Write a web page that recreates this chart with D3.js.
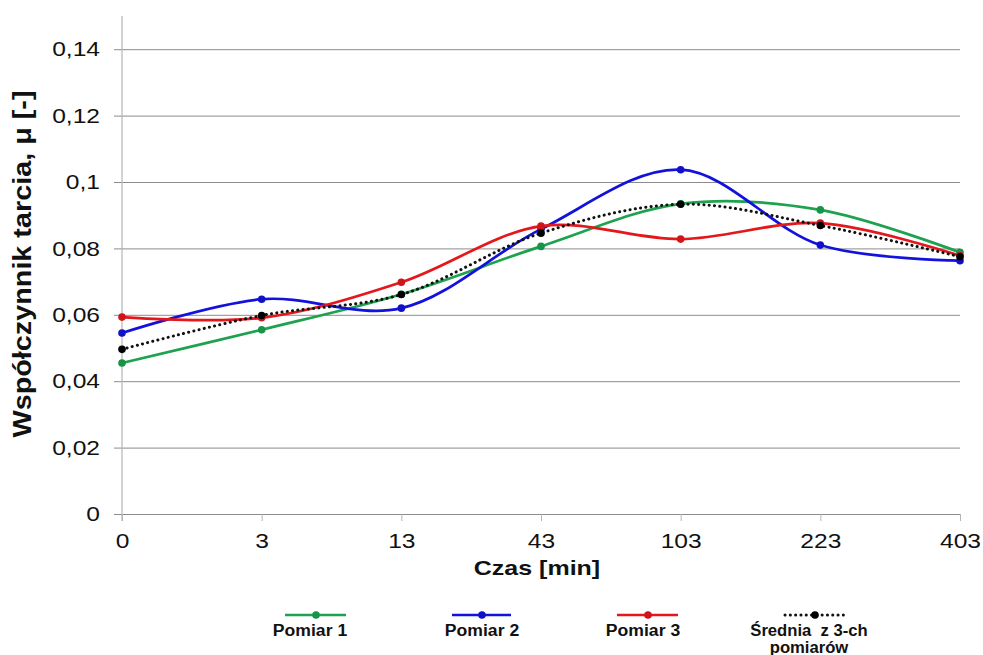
<!DOCTYPE html>
<html>
<head>
<meta charset="utf-8">
<script src="https://cdn.jsdelivr.net/npm/d3@7"></script>
<style>
  body { margin: 0; background: #fff; }
  svg { font-family: "Liberation Sans", Arial, sans-serif; }
</style>
</head>
<body>
<svg id="chart" width="983" height="655"></svg>
<script>
// data
const czas = ["0", "3", "13", "43", "103", "223", "403"];
const pomiar1 = [0.0455, 0.0555, 0.0662, 0.0806, 0.0934, 0.0916, 0.0788];
const pomiar2 = [0.0545, 0.0647, 0.0620, 0.0858, 0.1037, 0.0810, 0.0763];
const pomiar3 = [0.0593, 0.0591, 0.0698, 0.0867, 0.0828, 0.0876, 0.0778];
const srednia = [0.0496, 0.0598, 0.0661, 0.0846, 0.0933, 0.0869, 0.0775];
const yTicks = [0, 0.02, 0.04, 0.06, 0.08, 0.1, 0.12, 0.14];

const series = [
  { name: "Pomiar 1", values: pomiar1, color: "#1fa24f", dot: "#17934a" },
  { name: "Pomiar 2", values: pomiar2, color: "#1212dc", dot: "#1010c8" },
  { name: "Pomiar 3", values: pomiar3, color: "#e3171c", dot: "#d0151a" },
  { name: "Średnia", values: srednia, color: "#111", dot: "#000", dotted: true }
];

const svg = d3.select("#chart"),
    margin = { top: 16, right: 23, bottom: 141, left: 122 },
    width = +svg.attr("width") - margin.left - margin.right,
    height = +svg.attr("height") - margin.top - margin.bottom;

const g = svg.append("g").attr("transform", `translate(${margin.left},${margin.top})`);

const x = d3.scalePoint().domain(czas).range([0, width]);
const y = d3.scaleLinear().domain([0, 0.15]).range([height, 0]);
const fmt = d => String(+d.toFixed(2)).replace(".", ",");

// the reference text is a bit wider than Liberation Sans, stretch it
function stretch(sel, k) {
    sel.each(function () {
        const len = this.getComputedTextLength();
        d3.select(this).attr("textLength", len * k).attr("lengthAdjust", "spacingAndGlyphs");
    });
}

// gridlines + y axis labels
g.append("g")
    .call(d3.axisLeft(y).tickValues(yTicks).tickSize(-width).tickFormat(fmt).tickPadding(22))
    .call(a => a.select(".domain").remove())
    .call(a => a.selectAll("line").attr("x1", -8).attr("x2", width).attr("stroke", "#8c8c8c"))
    .call(a => a.selectAll("text").attr("font-size", 21).attr("fill", "#111").call(stretch, 1.17));

// y axis line
g.append("line")
    .attr("x1", 0).attr("x2", 0).attr("y1", 0).attr("y2", height + 7)
    .attr("stroke", "#b5b5b5").attr("stroke-width", 1.2);

// x axis
g.append("g")
    .attr("transform", `translate(0,${height})`)
    .call(d3.axisBottom(x).tickSize(7).tickPadding(12))
    .call(a => a.select(".domain").remove())
    .call(a => a.selectAll("line").attr("stroke", "#b5b5b5"))
    .call(a => a.selectAll("text").attr("font-size", 21).attr("fill", "#111").call(stretch, 1.17));

// axis titles
svg.append("text")
    .attr("x", margin.left + width / 2 - 4).attr("y", 575)
    .attr("text-anchor", "middle")
    .attr("font-size", 21).attr("font-weight", "bold").attr("fill", "#111")
    .text("Czas [min]")
    .call(stretch, 1.19);

svg.append("text")
    .attr("transform", `translate(31,${margin.top + height / 2 - 1}) scale(1.18,1) rotate(-90)`)
    .attr("text-anchor", "middle")
    .attr("font-size", 22).attr("font-weight", "bold").attr("fill", "#111")
    .attr("textLength", 347).attr("lengthAdjust", "spacingAndGlyphs")
    .text("Współczynnik tarcia, μ [-]");

const line = d3.line()
    .x((d, i) => x(czas[i]))
    .y(d => y(d))
    .curve(d3.curveCatmullRom.alpha(0.5));

series.forEach(s => {
    g.append("path")
        .datum(s.values)
        .attr("fill", "none")
        .attr("stroke", s.color)
        .attr("stroke-width", s.dotted ? 3 : 2.7)
        .attr("stroke-dasharray", s.dotted ? "0.1,5.2" : null)
        .attr("stroke-linecap", s.dotted ? "round" : "butt")
        .attr("d", line);

    g.selectAll(null)
        .data(s.values)
        .enter().append("circle")
        .attr("cx", (d, i) => x(czas[i]))
        .attr("cy", d => y(d))
        .attr("r", 3.8)
        .attr("fill", s.dot);
});

// legend
const legend = [
    { s: series[0], cx: 316, x1: -31, x2: 30, tx: -6, k: 1.1, label: ["Pomiar 1"] },
    { s: series[1], cx: 482, x1: -30, x2: 29, tx: 0, k: 1.1, label: ["Pomiar 2"] },
    { s: series[2], cx: 648, x1: -31, x2: 30, tx: -5, k: 1.1, label: ["Pomiar 3"] },
    { s: series[3], cx: 815, x1: -30, x2: 33, tx: -6, k: 1.04, label: ["Średnia  z 3-ch", "pomiarów"] }
];

legend.forEach(l => {
    const lg = svg.append("g").attr("transform", `translate(${l.cx},615)`);
    lg.append("line")
        .attr("x1", l.x1).attr("x2", l.x2)
        .attr("stroke", l.s.color)
        .attr("stroke-width", l.s.dotted ? 3 : 2.7)
        .attr("stroke-dasharray", l.s.dotted ? "0.1,5.2" : null)
        .attr("stroke-linecap", l.s.dotted ? "round" : "butt");
    lg.append("circle").attr("r", 3.8).attr("fill", l.s.dot);
    lg.selectAll("text")
        .data(l.label)
        .enter().append("text")
        .attr("x", l.tx)
        .attr("y", (d, i) => 21 + i * 16.5)
        .attr("text-anchor", "middle")
        .attr("font-size", 16).attr("font-weight", "bold").attr("fill", "#111")
        .style("white-space", "pre")
        .text(d => d)
        .call(stretch, l.k);
});
</script>
</body>
</html>
